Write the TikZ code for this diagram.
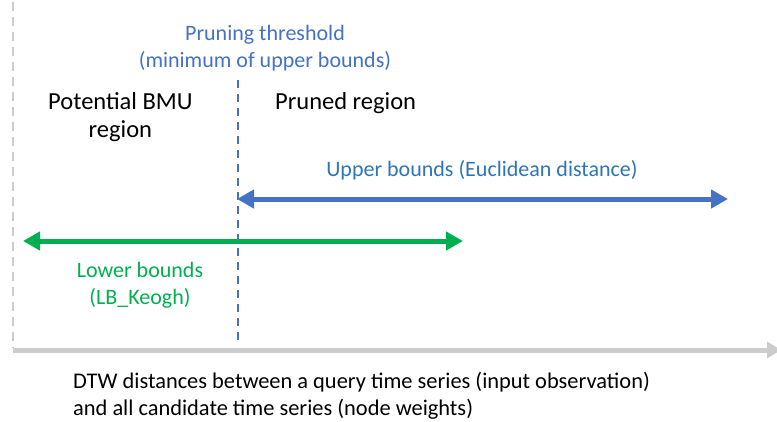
\documentclass[tikz,border=0pt]{standalone}
\usepackage{fontspec}
\setmainfont{Carlito}
\usetikzlibrary{arrows.meta}
\definecolor{axisgray}{HTML}{CCCCCC}
\definecolor{ubblue}{HTML}{4472C4}
\definecolor{ubtext}{HTML}{2E75B6}
\definecolor{lbgreen}{HTML}{00B050}
\tikzset{
  lbl/.style={inner sep=0pt, font=\fontsize{22}{27}\selectfont, align=center},
  blklbl/.style={inner sep=0pt, font=\fontsize{24.5}{28}\selectfont, align=center},
  botlbl/.style={inner sep=0pt, font=\fontsize{22.4}{27}\selectfont, align=left},
  bigarrow/.style={line width=5pt, {Triangle[length=17pt,width=18pt]}-{Triangle[length=17pt,width=18pt]}},
}
\begin{document}
\begin{tikzpicture}[x=1pt,y=-1pt]
\useasboundingbox (0,0) rectangle (777,421);
% left dashed axis
\coordinate (ytop) at (13,2);
\coordinate (ybot) at (13,348);
\draw[axisgray, line width=2pt, dash pattern=on 9pt off 6pt] (ytop) -- (ybot);
% horizontal axis
\coordinate (xl) at (13,350);
\coordinate (xr) at (781,350);
\draw[axisgray, line width=5pt, -{Triangle[length=14pt,width=16pt]}] (xl) -- (xr);
% threshold
\coordinate (thtop) at (238,80);
\coordinate (thbot) at (238,345);
\draw[ubblue, line width=1.6pt, dash pattern=on 8pt off 6pt] (thtop) -- (thbot);
\node[lbl, text=ubblue] (thr) at (265,48) {Pruning threshold\\(minimum of upper bounds)};
\node[blklbl, anchor=west] (pot) at (48,117) {Potential BMU\\region};
\node[blklbl, anchor=west] (pruned) at (275,103) {Pruned region};
% upper bounds
\coordinate (ubl) at (237,199);
\coordinate (ubr) at (728,199);
\draw[ubblue, bigarrow] (ubl) -- (ubr);
\node[lbl, text=ubtext] (ub) at (482,170) {Upper bounds (Euclidean distance)};
% lower bounds
\coordinate (lbl) at (23,241);
\coordinate (lbr) at (463,241);
\draw[lbgreen, bigarrow] (lbl) -- (lbr);
\node[lbl, text=lbgreen] (lb) at (140,285) {Lower bounds\\(LB\_Keogh)};
% bottom text
\node[botlbl, anchor=west] (desc) at (73,396) {DTW distances between a query time series (input observation)\\and all candidate time series (node weights)};
\end{tikzpicture}
\end{document}
